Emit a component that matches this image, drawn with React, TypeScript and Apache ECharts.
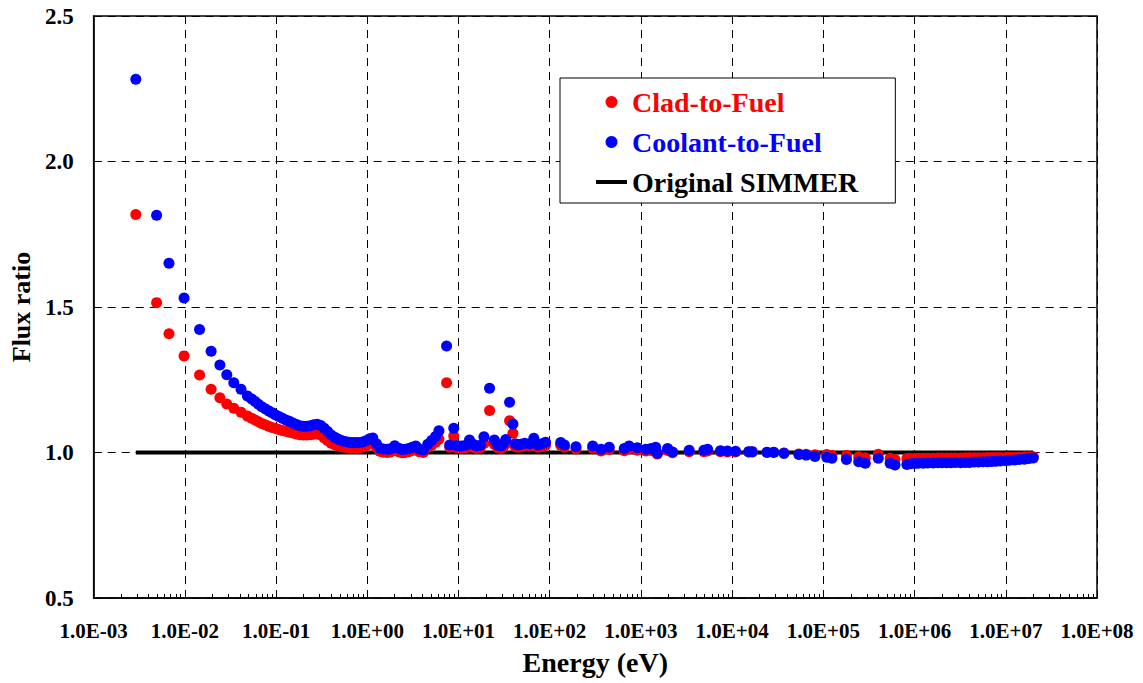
import React, { useEffect, useRef } from "react";
import * as echarts from "echarts";

// Neutron energy grid points (eV) and the flux ratios at each of them
const energy: number[] = [
  0.0029, 0.0049, 0.0067, 0.0098, 0.0145, 0.0194, 0.0242, 0.0288, 0.0344, 0.0413,
  0.0485, 0.054, 0.0589, 0.064, 0.0696, 0.076, 0.083, 0.09, 0.098, 0.107,
  0.117, 0.128, 0.14, 0.153, 0.167, 0.182, 0.199, 0.217, 0.237, 0.259,
  0.283, 0.309, 0.337, 0.368, 0.402, 0.439, 0.479, 0.523, 0.571, 0.624,
  0.681, 0.744, 0.812, 0.887, 0.968, 1.06, 1.15, 1.26, 1.37, 1.5,
  1.65, 1.8, 2.0, 2.2, 2.4, 2.6, 2.85, 3.1, 3.4, 3.7,
  4.1, 4.6, 5.07, 5.6, 6.1, 7.4, 8.0, 8.87, 9.5, 10.7,
  12, 13.2, 14.5, 15.7, 17.3, 19, 21.9, 24.7, 27, 29.2,
  31, 33, 36.3, 39.5, 42, 44.9, 48, 53, 60, 67,
  74, 82, 90, 132, 145, 194, 296, 365, 449, 656,
  741, 913, 1130, 1290, 1450, 1510, 1960, 2220, 3380, 4900,
  5380, 7450, 8880, 10900, 15200, 16600, 24100, 28600, 37000, 53900,
  64700, 81000, 109000, 124000, 179000, 244000, 288000, 400000, 540000, 610000,
  823000, 900000, 1.0e6, 1.1e6, 1.25e6, 1.4e6, 1.6e6, 1.8e6, 2.0e6, 2.25e6,
  2.5e6, 2.8e6, 3.2e6, 3.6e6, 4.0e6, 4.5e6, 5.0e6, 5.6e6, 6.3e6, 7.0e6,
  7.8e6, 8.7e6, 1.0e7, 1.1e7, 1.25e7, 1.4e7, 1.6e7, 1.8e7, 2.0e7,
];

const cladToFuel: number[] = [
  1.818, 1.515, 1.408, 1.332, 1.266, 1.217, 1.188, 1.167, 1.152, 1.138,
  1.125, 1.118, 1.112, 1.106, 1.1, 1.095, 1.09, 1.086, 1.083, 1.079,
  1.076, 1.073, 1.07, 1.067, 1.064, 1.061, 1.06, 1.06, 1.061, 1.063,
  1.064, 1.06, 1.05, 1.04, 1.032, 1.027, 1.023, 1.02, 1.018, 1.016,
  1.015, 1.015, 1.016, 1.018, 1.022, 1.03, 1.035, 1.018, 1.004, 1.001,
  1.0, 1.002, 1.01, 1.003, 0.999, 1.0, 1.003, 1.007, 1.012, 1.003,
  1.0, 1.018, 1.025, 1.035, 1.046, 1.24, 1.018, 1.057, 1.016, 1.015,
  1.016, 1.02, 1.018, 1.014, 1.016, 1.031, 1.144, 1.028, 1.016, 1.014,
  1.02, 1.03, 1.109, 1.066, 1.02, 1.018, 1.02, 1.022, 1.022, 1.035,
  1.018, 1.02, 1.025, 1.025, 1.018, 1.012, 1.015, 1.005, 1.01, 1.006,
  1.013, 1.008, 1.005, 1.007, 1.012, 0.995, 1.007, 0.999, 1.003, 1.003,
  1.005, 1.003, 1.002, 1.002, 1.002, 1.002, 1.0, 1.0, 0.998, 0.995,
  0.994, 0.992, 0.993, 0.99, 0.99, 0.985, 0.982, 0.994, 0.98, 0.976,
  0.979, 0.979, 0.979, 0.98, 0.98, 0.98, 0.98, 0.981, 0.981, 0.981,
  0.981, 0.981, 0.981, 0.982, 0.982, 0.982, 0.982, 0.982, 0.983, 0.983,
  0.983, 0.983, 0.983, 0.984, 0.984, 0.984, 0.985, 0.985, 0.985,
];

const coolantToFuel: number[] = [
  2.283, 1.815, 1.65, 1.531, 1.423, 1.348, 1.301, 1.267, 1.24, 1.217,
  1.194, 1.184, 1.175, 1.166, 1.157, 1.15, 1.143, 1.137, 1.13, 1.124,
  1.118, 1.112, 1.107, 1.101, 1.096, 1.092, 1.09, 1.09, 1.092, 1.095,
  1.097, 1.093, 1.083, 1.072, 1.06, 1.052, 1.046, 1.041, 1.038, 1.035,
  1.034, 1.034, 1.034, 1.036, 1.04, 1.047, 1.05, 1.03, 1.015, 1.012,
  1.011, 1.013, 1.023, 1.015, 1.01, 1.011, 1.014, 1.018, 1.022, 1.012,
  1.009, 1.028, 1.041, 1.055, 1.075, 1.366, 1.026, 1.083, 1.024, 1.022,
  1.025, 1.043, 1.028, 1.022, 1.025, 1.054, 1.221, 1.043, 1.025, 1.022,
  1.03, 1.045, 1.173, 1.098, 1.03, 1.026, 1.028, 1.032, 1.03, 1.049,
  1.026, 1.03, 1.035, 1.034, 1.026, 1.02, 1.022, 1.011, 1.018, 1.014,
  1.022, 1.016, 1.011, 1.014, 1.018, 0.997, 1.014, 1.002, 1.008, 1.008,
  1.011, 1.006, 1.005, 1.004, 1.003, 1.003, 1.001, 1.001, 0.997, 0.993,
  0.991, 0.986, 0.984, 0.98, 0.976, 0.968, 0.963, 0.98, 0.963, 0.957,
  0.959, 0.961, 0.962, 0.963, 0.963, 0.964, 0.964, 0.965, 0.965, 0.965,
  0.965, 0.966, 0.965, 0.966, 0.966, 0.967, 0.967, 0.968, 0.968, 0.969,
  0.97, 0.971, 0.972, 0.973, 0.974, 0.976, 0.977, 0.979, 0.981,
];

// Reference line of the original SIMMER model
const simmerEnergy: number[] = [0.0029, 2.0e7];
const simmerRatio: number[] = [1.0, 1.0];

const decadeTicks: number[] = [1e-3, 1e-2, 1e-1, 1, 10, 100, 1e3, 1e4, 1e5, 1e6, 1e7, 1e8];

const FONT = "'Liberation Serif', 'Times New Roman', serif";

function minorLogTicks(): number[] {
  const out: number[] = [];
  for (let d = -3; d < 8; d++) {
    for (let k = 2; k <= 9; k++) out.push(k * Math.pow(10, d));
  }
  return out;
}

function sci(v: number): string {
  const exp = Math.round(Math.log10(v));
  const sign = exp < 0 ? "-" : "+";
  const a = Math.abs(exp);
  return "1.0E" + sign + (a < 10 ? "0" + a : String(a));
}

export default function App() {
  const ref = useRef<HTMLDivElement>(null);

  useEffect(() => {
    if (!ref.current) return;
    const chart = echarts.init(ref.current, undefined, { renderer: "svg" });

    const clad = energy.map((e, i) => [e, cladToFuel[i]]);
    const cool = energy.map((e, i) => [e, coolantToFuel[i]]);
    const simmer = simmerEnergy.map((e, i) => [e, simmerRatio[i]]);

    chart.setOption({
      animation: false,
      backgroundColor: "#fff",
      grid: {
        left: 91,
        right: 46,
        top: 16,
        bottom: 85,
        show: true,
        borderColor: "#000",
        borderWidth: 1.5,
        backgroundColor: "transparent",
      },
      legend: {
        orient: "vertical",
        left: 560,
        top: 78,
        padding: [10, 37, 7, 36],
        itemGap: 12,
        itemWidth: 31,
        itemHeight: 12,
        backgroundColor: "#fff",
        borderColor: "#000",
        borderWidth: 1,
        textStyle: { fontFamily: FONT, fontWeight: "bold", fontSize: 28 },
        data: [
          { name: "Clad-to-Fuel", icon: "circle", textStyle: { color: "#ff0000" } },
          { name: "Coolant-to-Fuel", icon: "circle", textStyle: { color: "#0000ff" } },
          {
            name: "Original SIMMER",
            icon: "path://M0,0L31,0L31,4L0,4Z",
            itemStyle: { color: "#000" },
            textStyle: { color: "#000" },
          },
        ],
      },
      xAxis: [
        {
          type: "log",
          logBase: 10,
          min: 1e-3,
          max: 1e8,
          interval: 1,
          name: "Energy (eV)",
          nameLocation: "middle",
          nameGap: 50,
          nameTextStyle: { fontFamily: FONT, fontWeight: "bold", fontSize: 28, color: "#000" },
          axisLine: { show: true, onZero: false, lineStyle: { color: "#000", width: 1.5 } },
          axisTick: { show: true, inside: true, length: 7, customValues: decadeTicks, lineStyle: { color: "#000", width: 1 } },
          axisLabel: {
            show: true,
            margin: 22,
            customValues: decadeTicks,
            formatter: (v: number) => sci(v),
            fontFamily: FONT,
            fontWeight: "bold",
            fontSize: 21,
            color: "#000",
          },
          splitLine: { show: true, lineStyle: { color: "#000", width: 1, type: [8, 6] } },
        },
        {
          type: "log",
          logBase: 10,
          min: 1e-3,
          max: 1e8,
          interval: 1,
          position: "bottom",
          axisLine: { show: false },
          axisTick: { show: true, inside: true, length: 4, customValues: minorLogTicks(), lineStyle: { color: "#000", width: 1 } },
          axisLabel: { show: false },
          splitLine: { show: false },
        },
      ],
      yAxis: {
        type: "value",
        min: 0.5,
        max: 2.5,
        interval: 0.5,
        name: "Flux ratio",
        nameLocation: "middle",
        nameRotate: 90,
        nameGap: 58,
        nameTextStyle: { fontFamily: FONT, fontWeight: "bold", fontSize: 26, color: "#000" },
        axisLine: { show: true, onZero: false, lineStyle: { color: "#000", width: 1.5 } },
        axisTick: { show: true, inside: true, length: 8, lineStyle: { color: "#000", width: 1 } },
        axisLabel: {
          margin: 20,
          formatter: (v: number) => v.toFixed(1),
          fontFamily: FONT,
          fontWeight: "bold",
          fontSize: 23,
          color: "#000",
        },
        splitLine: { show: true, lineStyle: { color: "#000", width: 1, type: [8, 6] } },
      },
      series: [
        {
          name: "Original SIMMER",
          type: "line",
          xAxisIndex: 0,
          data: simmer,
          symbol: "none",
          showSymbol: false,
          lineStyle: { color: "#000", width: 4 },
          itemStyle: { color: "#000" },
          z: 2,
        },
        {
          name: "Clad-to-Fuel",
          type: "scatter",
          xAxisIndex: 0,
          data: clad,
          symbol: "circle",
          symbolSize: 11,
          itemStyle: { color: "#ff0000", opacity: 1 },
          z: 3,
        },
        {
          name: "Coolant-to-Fuel",
          type: "scatter",
          xAxisIndex: 0,
          data: cool,
          symbol: "circle",
          symbolSize: 11,
          itemStyle: { color: "#0000ff", opacity: 1 },
          z: 4,
        },
      ],
    });

    return () => chart.dispose();
  }, []);

  return (
    <div
      ref={ref}
      style={{ position: "absolute", left: 0, top: 0, width: "1143px", height: "683px", background: "#fff" }}
    />
  );
}
